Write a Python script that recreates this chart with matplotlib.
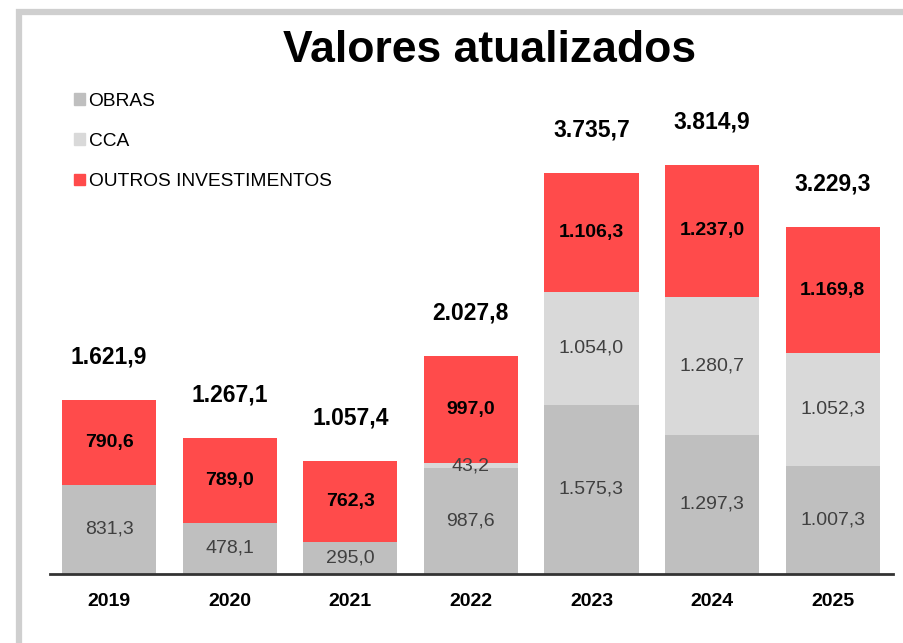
import matplotlib.pyplot as plt
from matplotlib.patches import Rectangle, Patch

plt.rcParams['font.family'] = ['Liberation Sans', 'DejaVu Sans']

years = ['2019', '2020', '2021', '2022', '2023', '2024', '2025']
obras = [831.3, 478.1, 295.0, 987.6, 1575.3, 1297.3, 1007.3]
cca = [0.0, 0.0, 0.0, 43.2, 1054.0, 1280.7, 1052.3]
outros = [790.6, 789.0, 762.3, 997.0, 1106.3, 1237.0, 1169.8]
totais = ['1.621,9', '1.267,1', '1.057,4', '2.027,8', '3.735,7', '3.814,9', '3.229,3']

c_obras = '#bfbfbf'
c_cca = '#d9d9d9'
c_outros = '#ff4b4b'


def fmt(v):
    s = f'{v:,.1f}'
    return s.replace(',', 'X').replace('.', ',').replace('X', '.')


fig = plt.figure(figsize=(9.04, 6.43), dpi=100)
# moldura cinza
fig.patches.append(Rectangle((0.021, -0.2), 1.2, 1.181, transform=fig.transFigure,
                             fill=False, edgecolor='#cfcfcf', linewidth=4.5))

ax = fig.add_axes([0.0553, 0.1073, 0.9325, 0.7527])
x = list(range(len(years)))
w = 0.78
base2 = [a + b for a, b in zip(obras, cca)]
ax.bar(x, obras, w, color=c_obras, zorder=2)
ax.bar(x, cca, w, bottom=obras, color=c_cca, zorder=2)
ax.bar(x, outros, w, bottom=base2, color=c_outros, zorder=2)

for i in x:
    ax.text(i, obras[i] / 2, fmt(obras[i]), ha='center', va='center',
            fontsize=14, color='#404040')
    if cca[i] > 0:
        yc = obras[i] + cca[i] / 2
        ax.text(i, yc, fmt(cca[i]), ha='center', va='center',
                fontsize=14, color='#404040')
    ax.text(i, base2[i] + outros[i] / 2, fmt(outros[i]), ha='center', va='center',
            fontsize=14, fontweight='bold', color='black')
    top = base2[i] + outros[i]
    ax.annotate(totais[i], (i, top), xytext=(0, 43), textcoords='offset pixels',
                ha='center', va='center', fontsize=16.5, fontweight='bold')

ax.set_xlim(-0.49, 6.5)
ax.set_ylim(0, 4510)
ax.set_xticks(x)
ax.set_xticklabels(years, fontsize=14, fontweight='bold')
ax.tick_params(axis='x', length=0, pad=14)
ax.set_yticks([])
for s in ['top', 'right', 'left']:
    ax.spines[s].set_visible(False)
ax.spines['bottom'].set_linewidth(2)
ax.spines['bottom'].set_color('#333333')

fig.text(0.541, 0.922, 'Valores atualizados', ha='center', va='center',
         fontsize=32, fontweight='bold')

handles = [Patch(color=c_obras), Patch(color=c_cca), Patch(color=c_outros)]
fig.legend(handles, ['OBRAS', 'CCA', 'OUTROS INVESTIMENTOS'], loc='upper left',
           bbox_to_anchor=(0.082, 0.856), frameon=False, fontsize=13.8,
           handlelength=0.55, handleheight=0.55, handletextpad=0.2,
           labelspacing=1.22, borderpad=0, borderaxespad=0)

fig.savefig('out.png', dpi=100)
